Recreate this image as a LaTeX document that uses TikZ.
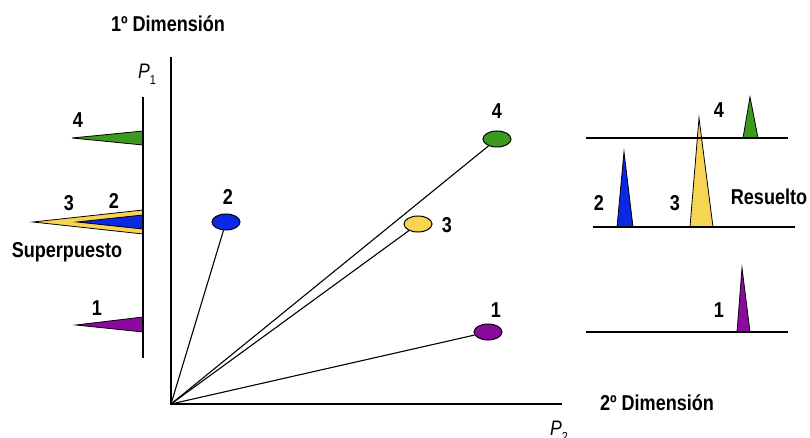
\documentclass[tikz,border=0pt]{standalone}
\usepackage{fontspec}
\setmainfont[FakeStretch=0.84]{Liberation Sans}
\usepackage{tikz}
\usetikzlibrary{shapes.geometric}
\definecolor{pkGreen}{HTML}{3C9A1E}
\definecolor{pkBlue}{HTML}{0A28E6}
\definecolor{pkYellow}{HTML}{F7D452}
\definecolor{pkPurple}{HTML}{8B0A9E}
\tikzset{
  num/.style={font=\fontsize{21.5}{21.5}\selectfont\bfseries, anchor=base, inner sep=0pt},
  axis/.style={line width=1.6pt},
  spot/.style={ellipse, draw=black, line width=1pt, minimum width=28pt, minimum height=16pt, inner sep=0pt},
  peak/.style={draw=black, line width=0.8pt, line join=miter},
}

\begin{document}
\begin{tikzpicture}[x=1pt, y=-1pt,
  ray/.style={line width=1.1pt},
  axlab/.style={font=\fontsize{21}{21}\selectfont\itshape, anchor=base west, inner sep=0pt}]
\useasboundingbox (0,0) rectangle (810,438);
% main plane
\coordinate (o) at (171,404);
\draw[axis] (171,57) -- (o) -- (562,404);
\node[num] (dim1) at (168,32) {1º Dimensión};
\node[num] (dim2) at (657,410) {2º Dimensión};
\node[axlab] (p1) at (138,79) {P\raisebox{-6pt}{\upshape\fontsize{13}{13}\selectfont 1}};
\node[axlab] (p2) at (550,435) {P\raisebox{-6pt}{\upshape\fontsize{13}{13}\selectfont 2}};
\foreach \n/\c/\x/\y in {1/pkPurple/488/332, 2/pkBlue/226/222, 3/pkYellow/418/224, 4/pkGreen/497/139}{
  \node[spot, fill=\c] (s\n) at (\x,\y) {};
  \draw[ray] (o) -- (s\n);
}
\node[num] (l1) at (496,317) {1};
\node[num] (l2) at (228,205) {2};
\node[num] (l3) at (447,233) {3};
\node[num] (l4) at (497,119) {4};
% first dimension (projection on P1)
\draw[peak, fill=pkGreen] (143,131) -- (72,138) -- (143,145) -- cycle;
\draw[peak, fill=pkYellow] (143,210) -- (33,222) -- (143,234) -- cycle;
\draw[peak, fill=pkBlue] (143,215) -- (77,222) -- (143,229) -- cycle;
\draw[peak, fill=pkPurple] (143,317) -- (76,325) -- (143,332) -- cycle;
\draw[axis] (143,97) -- (143,358);
\node[num] (a4) at (78,128) {4};
\node[num] (a3) at (69,211) {3};
\node[num] (a2) at (114,208) {2};
\node[num] (a1) at (97,315) {1};
\node[num] (sup) at (67,257) {Superpuesto};
% second dimension (resolved)
\draw[peak, fill=pkGreen] (743,138) -- (750,97) -- (758,138) -- cycle;
\draw[peak, fill=pkYellow] (690,227) -- (699,118) -- (713,227) -- cycle;
\draw[peak, fill=pkBlue] (617,227) -- (624,152) -- (633,227) -- cycle;
\draw[peak, fill=pkPurple] (737,332) -- (742,268) -- (750,332) -- cycle;
\draw[axis] (586,138) -- (788,138);
\draw[axis] (593,227) -- (795,227);
\draw[axis] (586,332) -- (788,332);
\node[num] (b4) at (719,118) {4};
\node[num] (b2) at (599,211) {2};
\node[num] (b3) at (675,211) {3};
\node[num] (b1) at (719,317) {1};
\node[num] (res) at (769,205) {Resuelto};
\end{tikzpicture}
\end{document}
